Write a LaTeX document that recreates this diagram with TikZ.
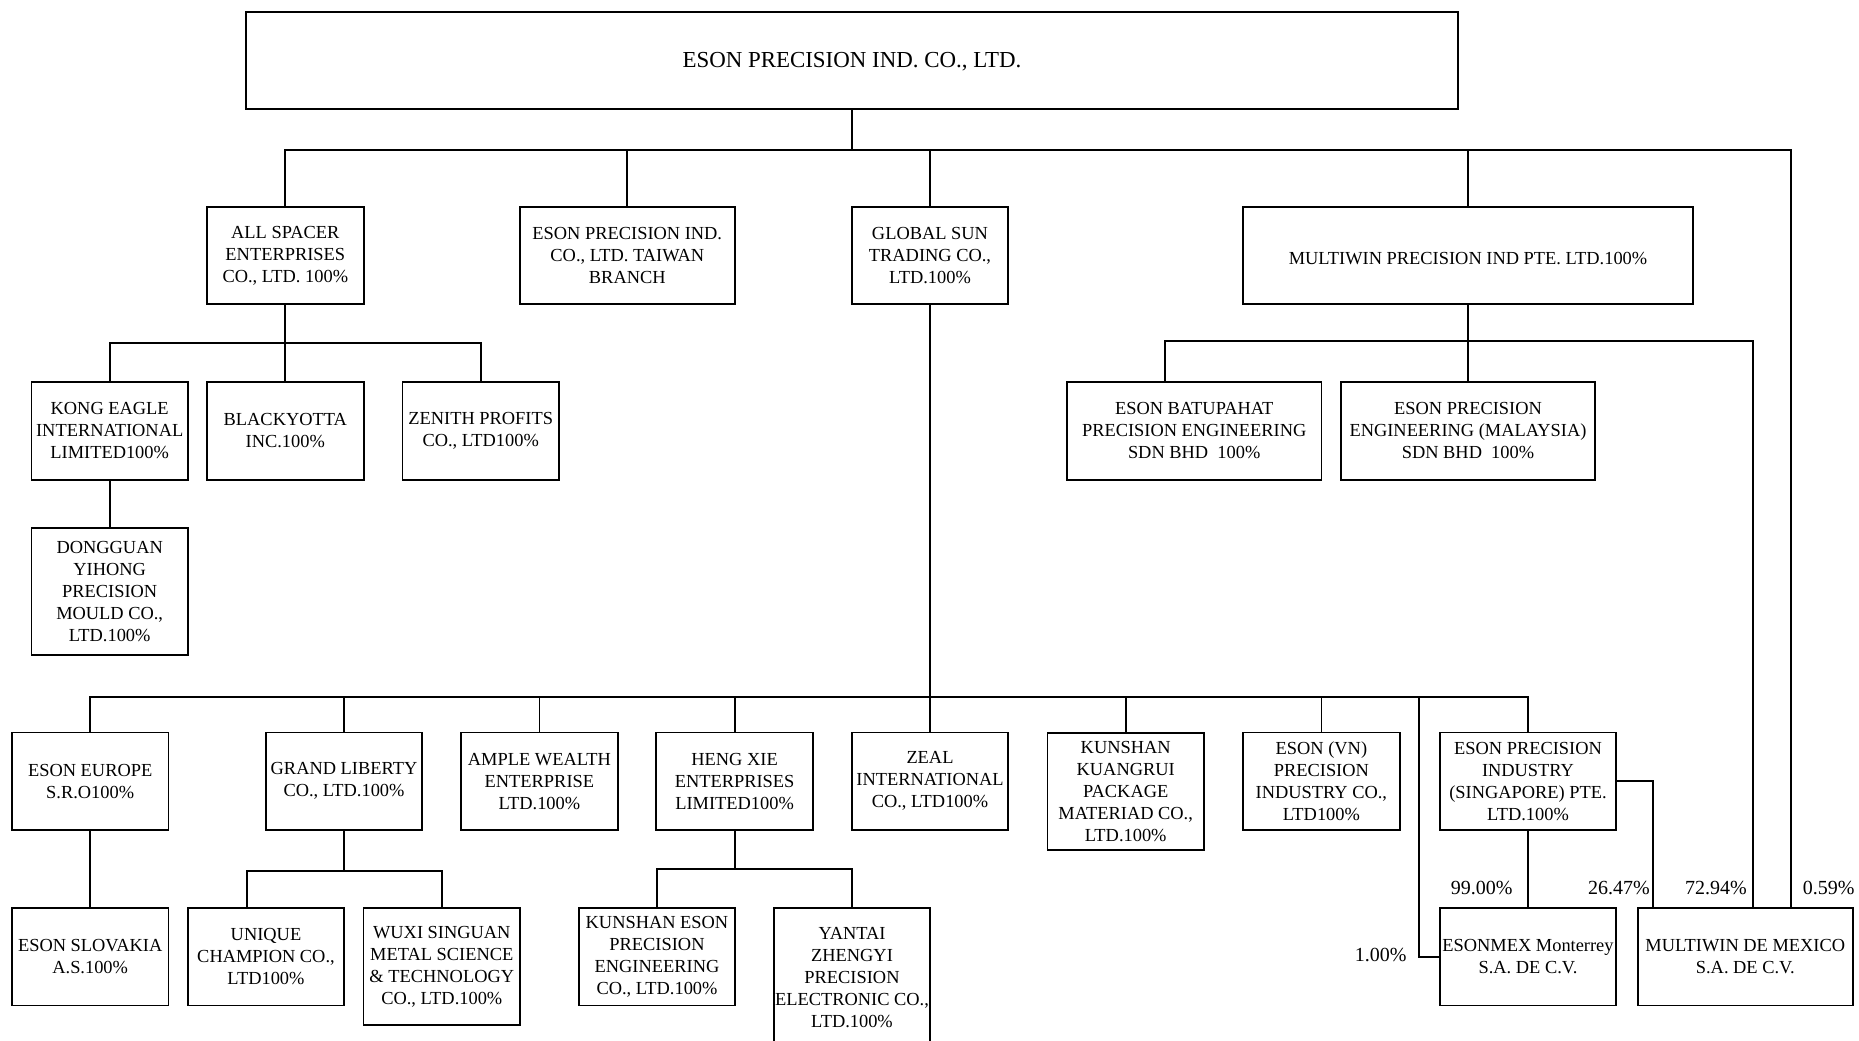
\documentclass[tikz,border=0pt]{standalone}
\usepackage{fontspec}
\setmainfont{Liberation Serif}
\usepackage{tikz}
\usetikzlibrary{positioning}
\newcommand{\boxfont}{\fontsize{9.2}{11}\selectfont}
\newcommand{\topfont}{\fontsize{11.45}{13.7}\selectfont}
\newcommand{\pctfont}{\fontsize{10}{12}\selectfont}

\begin{document}
\begin{tikzpicture}[
  x=0.5pt, y=-0.5pt,
  box/.style={rectangle, draw, line width=0.9pt, inner sep=0pt, align=center,
              font=\boxfont, minimum width=78.3pt, minimum height=48.75pt,
              execute at begin node={\rule{0pt}{9pt}}},
  tallbox/.style={box, minimum height=58.6pt},
  link/.style={line width=0.9pt},
  pct/.style={font=\pctfont, inner sep=0pt}
]
\useasboundingbox (0,0) rectangle (1859,1040);

% Parent
\node[box, font=\topfont, minimum width=606.25pt, minimum height=48.5pt] (top) at (852,60.5) {ESON PRECISION IND. CO., LTD.};

% First level
\node[box] (allspacer) at (285.3,255.5) {ALL SPACER\\ENTERPRISES\\CO., LTD. 100\%};
\node[box, minimum width=107.7pt] (taiwan) at (627.3,255.5) {ESON PRECISION IND.\\CO., LTD. TAIWAN\\BRANCH};
\node[box] (globalsun) at (930,255.5) {GLOBAL SUN\\TRADING CO.,\\LTD.100\%};
\node[box, minimum width=225pt] (multiwin) at (1468,255.5) {MULTIWIN PRECISION IND PTE. LTD.100\%};

% Under ALL SPACER and MULTIWIN
\node[box] (kongeagle) at (109.7,431) {KONG EAGLE\\INTERNATIONAL\\LIMITED100\%};
\node[box] (blackyotta) at (285.3,431) {BLACKYOTTA\\INC.100\%};
\node[box] (zenith) at (480.7,431) {ZENITH PROFITS\\CO., LTD100\%};
\node[box, minimum height=63.5pt] (dongguan) at (109.7,591.5) {DONGGUAN\\YIHONG\\PRECISION\\MOULD CO.,\\LTD.100\%};
\node[box, minimum width=127.25pt] (batupahat) at (1194.2,431) {ESON BATUPAHAT\\PRECISION ENGINEERING\\SDN BHD\ \ 100\%};
\node[box, minimum width=127pt] (malaysia) at (1468,431) {ESON PRECISION\\ENGINEERING (MALAYSIA)\\SDN BHD\ \ 100\%};

% Under GLOBAL SUN
\node[box] (europe) at (90.2,781.3) {ESON EUROPE\\S.R.O100\%};
\node[box] (grandliberty) at (344,781.3) {GRAND LIBERTY\\CO., LTD.100\%};
\node[box] (amplewealth) at (539.4,781.3) {AMPLE WEALTH\\ENTERPRISE\\LTD.100\%};
\node[box] (hengxie) at (734.6,781.3) {HENG XIE\\ENTERPRISES\\LIMITED100\%};
\node[box] (zeal) at (930,781.3) {ZEAL\\INTERNATIONAL\\CO., LTD100\%};
\node[tallbox] (kuangrui) at (1125.7,791.3) {KUNSHAN\\KUANGRUI\\PACKAGE\\MATERIAD CO.,\\LTD.100\%};
\node[box] (esonvn) at (1321.4,781.3) {ESON (VN)\\PRECISION\\INDUSTRY CO.,\\LTD100\%};
\node[box, minimum width=88pt] (singapore) at (1528,781.3) {ESON PRECISION\\INDUSTRY\\(SINGAPORE) PTE.\\LTD.100\%};

% Bottom level
\node[box] (slovakia) at (90.2,956.8) {ESON SLOVAKIA\\A.S.100\%};
\node[box] (unique) at (266,956.8) {UNIQUE\\CHAMPION CO.,\\LTD100\%};
\node[tallbox] (wuxi) at (441.8,966.5) {WUXI SINGUAN\\METAL SCIENCE\\\& TECHNOLOGY\\CO., LTD.100\%};
\node[box] (kunshaneson) at (657,956.8) {KUNSHAN ESON\\PRECISION\\ENGINEERING\\CO., LTD.100\%};
\node[box, minimum height=70pt] (yantai) at (852,978) {YANTAI\\ZHENGYI\\PRECISION\\ELECTRONIC CO.,\\LTD.100\%};
\node[box, minimum width=88pt] (esonmex) at (1528,956.8) {ESONMEX Monterrey\\S.A. DE C.V.};
\node[box, minimum width=107.7pt] (mdm) at (1745.3,956.8) {MULTIWIN DE MEXICO\\S.A. DE C.V.};

% Bus points
\coordinate (b1) at (852,150);
\coordinate (b2) at (285.3,343);
\coordinate (b3) at (1468,341);
\coordinate (b4) at (930,697);
\coordinate (b5) at (1419.3,697);
\coordinate (b6) at (344,870.7);
\coordinate (b7) at (734.6,869);
\coordinate (mdmA) at (1790.6,908);
\coordinate (mdmB) at (1753.3,908);

% Connectors
\draw[link] (top) -- (b1);
\draw[link] (allspacer) |- (b1) -| (mdmA);
\foreach \n in {taiwan,globalsun,multiwin}
  \draw[link] (\n) -- (\n |- b1);

\draw[link] (allspacer) -- (blackyotta);
\draw[link] (kongeagle) |- (b2) -| (zenith);
\draw[link] (kongeagle) -- (dongguan);

\draw[link] (multiwin) -- (malaysia);
\draw[link] ([xshift=-14.6pt]batupahat.north) |- (b3) -| (mdmB);

\draw[link] (globalsun) -- (zeal);
\draw[link] (europe) |- (b4) -| (singapore);
\foreach \n in {grandliberty,amplewealth,hengxie,kuangrui,esonvn}
  \draw[link] (\n) -- (\n |- b4);
\draw[link] (b5) |- (esonmex.west);

\draw[link] (europe) -- (slovakia);
\draw[link] (grandliberty) -- (b6);
\draw[link] ([xshift=-9.65pt]unique.north) |- (b6) -| (wuxi);
\draw[link] (hengxie) -- (b7);
\draw[link] (kunshaneson) |- (b7) -| (yantai);

\draw[link] (singapore) -- (esonmex);
\draw[link] (singapore) -| ([xshift=8pt]mdm.north west);

% Shares
\node[pct] (p99) at (1481.6,888) {99.00\%};
\node[pct] (p26) at (1619,888) {26.47\%};
\node[pct] (p72) at (1716,888) {72.94\%};
\node[pct] (p05) at (1828.6,888) {0.59\%};
\node[pct] (p01) at (1380.8,955) {1.00\%};

\end{tikzpicture}
\end{document}
